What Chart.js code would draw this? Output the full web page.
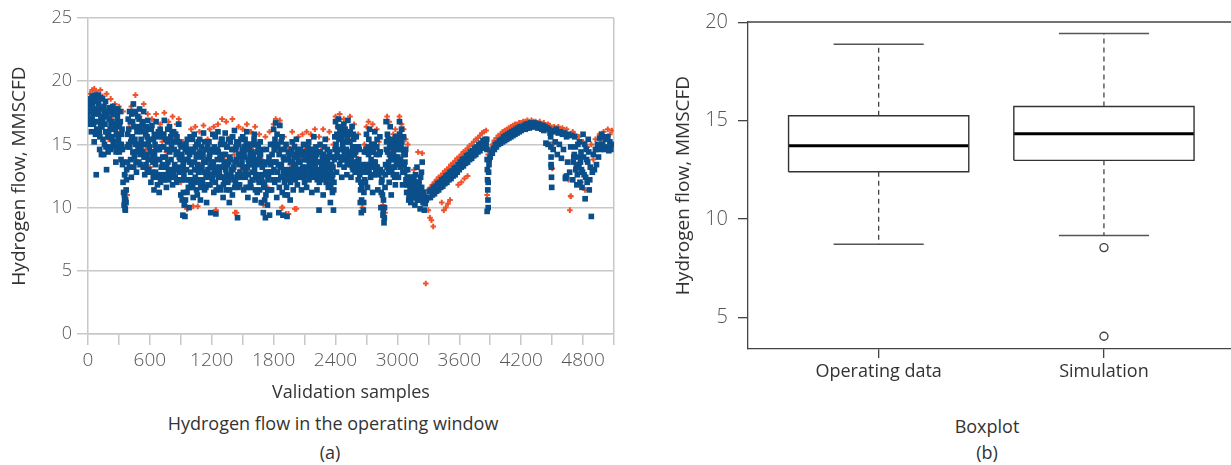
<!DOCTYPE html>
<html>
<head>
<meta charset="utf-8">
<script src="https://cdn.jsdelivr.net/npm/chart.js@4.4.1/dist/chart.umd.min.js"></script>
<style>
  html, body { margin: 0; padding: 0; background: #fff; overflow: hidden; }
  body { width: 1231px; height: 465px; position: relative; font-family: "Open Sans", sans-serif; color: #333; }
  .panel { position: absolute; }
  #scatterWrap { left: 0; top: 0; width: 666px; height: 404px; }
  #boxWrap { left: 640px; top: 0; width: 600px; height: 394px; }
  .cap { position: absolute; width: 600px; text-align: center; font-size: 18px; line-height: 24px; }
</style>
</head>
<body>
<div class="panel" id="scatterWrap"><canvas id="scatterChart"></canvas></div>
<div class="panel" id="boxWrap"><canvas id="boxChart"></canvas></div>
<div class="cap" style="left:33px; top:411px;">Hydrogen flow in the operating window</div>
<div class="cap" style="left:30px; top:440px;">(a)</div>
<div class="cap" style="left:687px; top:414px;">Boxplot</div>
<div class="cap" style="left:687px; top:440px;">(b)</div>
<script>
// (a) hydrogen flow, MMSCFD — operating data read every 10 samples (0, 10, 20 ...)
const OP_STEP = 10;
const opFlow = [
    17.4, 18.2, 16.6, 18.5, 17.0, 18.8, 15.2, 18.9, 12.6, 17.8, 18.9, 16.0, 18.7, 14.2, 18.6, 17.2, 15.0, 18.4, 13.0, 17.6, 15.8, 17.9, 14.6, 16.8, 18.0, 15.2, 17.4, 13.6, 16.4, 17.8,
    15.0, 17.6, 13.8, 16.2, 12.0, 10.2, 9.9, 11.4, 14.8, 17.0, 13.2, 16.8, 12.4, 15.6, 18.2, 14.0, 17.5, 12.8, 16.4, 15.0, 17.8, 13.4, 16.0, 14.4, 17.6, 12.6, 15.8, 14.2, 16.9, 13.0,
    15.4, 12.0, 16.5, 13.6, 11.4, 15.0, 16.8, 12.6, 14.6, 11.2, 16.2, 13.2, 15.6, 12.2, 16.9, 14.0, 11.6, 15.2, 13.0, 16.4, 12.4, 14.8, 11.8, 16.0, 13.4, 15.8, 12.0, 14.4, 16.6, 12.8,
    11.0, 14.2, 9.4, 12.6, 9.3, 15.0, 11.2, 13.8, 10.0, 15.6, 12.0, 14.6, 10.8, 15.8, 12.4, 14.0, 11.0, 15.2, 13.0, 10.6, 14.8, 12.2, 15.9, 11.4, 13.6, 10.4, 15.0, 12.6, 14.2, 9.6,
    13.4, 15.8, 11.2, 14.4, 9.5, 12.8, 16.0, 11.6, 14.0, 12.4, 15.4, 10.8, 13.6, 15.9, 11.4, 14.8, 12.2, 10.4, 15.2, 13.0, 11.0, 14.6, 16.1, 12.0, 13.8, 9.2, 15.0, 11.8, 14.2, 12.6,
    15.6, 11.4, 14.0, 12.8, 16.0, 10.8, 13.4, 15.0, 11.6, 14.4, 12.2, 15.4, 10.6, 13.8, 11.2, 14.8, 12.0, 15.2, 10.4, 13.2, 9.6, 11.8, 9.2, 14.6, 10.2, 12.6, 9.4, 15.0, 11.4, 13.6,
    16.2, 12.0, 16.7, 10.8, 14.8, 9.6, 16.5, 12.4, 15.6, 9.4, 13.8, 11.0, 15.0, 9.3, 12.6, 14.2, 10.6, 13.0, 15.2, 11.4, 14.0, 12.2, 15.4, 11.8, 13.6, 12.8, 14.6, 11.4, 13.2, 15.0,
    12.0, 14.4, 11.6, 13.8, 15.2, 12.4, 14.0, 11.2, 13.4, 15.6, 12.6, 14.8, 11.4, 13.0, 9.8, 15.0, 12.2, 14.2, 11.0, 13.6, 15.4, 12.0, 14.6, 11.6, 13.2, 10.4, 14.0, 11.2, 9.8, 13.8,
    16.8, 12.8, 15.6, 17.0, 13.4, 16.2, 12.4, 15.0, 16.6, 13.8, 15.8, 12.6, 16.9, 14.2, 15.2, 12.4, 16.4, 13.0, 14.8, 12.8, 15.6, 13.6, 12.2, 14.6, 10.4, 9.6, 12.8, 9.8, 14.4, 12.0,
    15.8, 11.6, 14.2, 16.2, 12.4, 15.0, 11.2, 13.6, 16.0, 12.8, 14.8, 11.4, 13.0, 15.6, 10.0, 12.2, 9.4, 8.8, 11.6, 16.8, 13.2, 15.4, 12.0, 16.4, 11.0, 14.0, 12.6, 15.0, 11.8, 13.4,
    15.2, 12.4, 16.8, 13.8, 16.2, 11.8, 15.6, 12.8, 14.6, 11.2, 13.0, 10.6, 12.2, 10.4, 11.6, 10.8, 12.4, 10.2, 11.4, 13.2, 10.6, 12.0, 9.9, 11.0, 13.6, 10.4, 9.8, 10.3, 10.6, 10.8,
    10.8, 11.3, 10.8, 11.4, 11.0, 11.6, 11.1, 11.7, 11.3, 11.9, 11.4, 12.0, 11.6, 12.2, 11.7, 12.3, 11.9, 12.5, 12.0, 12.6, 12.2, 12.8, 12.3, 12.9, 12.5, 13.1, 12.6, 13.2, 12.8, 13.4,
    13.0, 13.6, 13.2, 13.8, 13.3, 13.9, 13.5, 14.1, 13.6, 14.2, 13.8, 14.4, 13.9, 14.5, 14.1, 14.7, 14.2, 14.8, 14.4, 15.0, 14.5, 15.1, 14.7, 15.3, 14.8, 15.4, 15.0, 9.7, 12.0, 13.8,
    14.0, 14.4, 14.3, 14.7, 14.6, 15.0, 14.8, 15.1, 15.0, 15.3, 15.1, 15.4, 15.2, 15.6, 15.3, 15.7, 15.4, 15.8, 15.5, 15.9, 15.6, 16.0, 15.7, 16.1, 15.8, 16.2, 15.9, 16.3, 16.0, 16.4,
    16.1, 16.4, 16.2, 16.5, 16.2, 16.6, 16.3, 16.6, 16.3, 16.7, 16.4, 16.7, 16.4, 16.7, 16.4, 16.6, 16.3, 16.6, 16.3, 16.5, 16.2, 16.5, 16.1, 16.4, 15.1, 16.3, 15.0, 16.2, 15.9, 13.4,
    16.1, 14.6, 16.0, 15.2, 16.2, 14.2, 15.9, 15.0, 16.0, 13.9, 15.8, 14.6, 15.9, 12.4, 15.6, 13.6, 15.8, 12.8, 14.8, 15.7, 12.2, 14.0, 15.6, 13.0, 11.8, 15.0, 13.4, 12.0, 14.4, 11.6,
    15.8, 12.6, 10.7, 14.6, 12.0, 15.4, 11.4, 13.2, 9.3, 12.8, 14.2, 13.0, 14.6, 13.4, 15.0, 14.0, 15.5, 14.6, 15.8, 15.0, 15.6, 14.6, 15.4, 14.8, 15.6, 14.5, 15.2, 14.6, 15.0
];
// operating data in the noisy stretch, read at the in-between samples (5, 15, 25 ... 3255)
const OP_MID_START = 5;
const opFlowMid = [
    18.0, 17.0, 18.6, 17.6, 18.2, 17.4, 16.8, 18.4, 16.2, 18.6, 17.4, 15.6, 17.0, 16.4, 15.4, 18.0, 16.6, 14.8, 16.0, 14.4, 17.0, 16.2, 15.6, 17.4, 15.0, 16.6, 14.8, 15.8, 17.2, 15.4,
    16.4, 14.6, 15.8, 13.4, 11.2, 12.6, 10.6, 13.0, 15.8, 16.2, 14.8, 15.2, 17.4, 14.4, 16.4, 15.4, 13.6, 16.0, 14.6, 17.0, 14.2, 15.4, 16.6, 13.2, 15.0, 14.0, 16.4, 12.8, 15.2, 14.8,
    13.8, 14.4, 12.8, 15.4, 14.2, 12.8, 13.8, 15.6, 12.4, 13.8, 14.8, 12.6, 14.0, 15.8, 13.2, 12.6, 14.6, 13.6, 15.4, 12.8, 13.8, 16.0, 13.0, 14.6, 12.4, 14.2, 15.2, 13.2, 14.0, 15.0,
    13.0, 12.2, 11.2, 13.8, 10.6, 13.0, 14.4, 12.2, 14.2, 12.8, 13.4, 11.6, 14.4, 13.0, 12.0, 15.0, 13.4, 12.2, 14.4, 12.0, 13.2, 14.2, 12.8, 14.6, 12.4, 13.8, 11.8, 14.0, 13.2, 12.4,
    12.2, 13.6, 14.8, 12.0, 13.2, 14.6, 12.4, 13.2, 15.0, 13.8, 12.4, 14.2, 12.2, 13.0, 14.8, 12.0, 13.6, 14.0, 12.6, 14.6, 13.0, 12.2, 13.6, 14.8, 12.4, 11.6, 13.4, 14.0, 12.4, 14.6,
    13.2, 14.8, 12.4, 15.0, 13.2, 12.6, 14.6, 12.0, 13.8, 12.8, 14.2, 13.0, 12.4, 15.0, 13.4, 12.2, 14.0, 12.6, 13.6, 12.0, 11.6, 13.4, 11.0, 12.8, 12.2, 14.0, 11.4, 12.8, 14.2, 12.2,
    14.6, 13.6, 15.0, 12.8, 13.4, 11.6, 14.6, 13.4, 12.4, 14.0, 12.0, 13.0, 11.6, 12.4, 13.8, 12.4, 13.6, 14.4, 12.6, 13.4, 12.6, 14.2, 13.0, 14.0, 12.4, 13.6, 12.4, 14.2, 12.8, 13.8,
    13.2, 12.6, 14.2, 12.6, 13.6, 13.2, 12.6, 14.4, 12.4, 13.8, 14.0, 12.8, 13.6, 12.4, 12.8, 13.6, 13.2, 12.4, 14.2, 12.6, 13.8, 13.2, 12.4, 14.0, 12.6, 12.8, 12.2, 13.2, 12.0, 14.6,
    15.0, 14.2, 16.4, 14.6, 15.4, 14.0, 13.8, 16.0, 14.4, 15.2, 14.0, 15.4, 13.6, 15.8, 13.4, 14.4, 14.8, 15.4, 13.6, 14.4, 13.4, 14.8, 13.8, 12.6, 12.0, 11.6, 13.4, 11.2, 13.2, 14.6,
    13.4, 14.8, 13.0, 14.6, 13.8, 13.2, 14.4, 15.0, 13.6, 14.2, 13.2, 12.6, 14.4, 13.0, 12.0, 11.0, 10.6, 10.0, 13.4, 15.2, 14.4, 13.6, 14.8, 13.8, 12.8, 15.4, 13.8, 13.2, 14.0, 14.8,
    14.0, 15.4, 14.6, 15.0, 13.4, 14.6, 13.4, 14.2, 13.0, 12.4, 11.8, 11.2, 11.0, 12.0, 11.0, 11.6, 11.2, 12.6, 10.8, 11.6, 11.2, 10.6, 12.4, 11.6, 10.8, 11.2
];
// and at samples 3, 13, 23 ... 3253
const OP_OFF3_START = 3;
const opFlowOff3 = [
    16.8, 18.4, 17.8, 16.0, 18.8, 16.6, 17.8, 15.8, 17.6, 16.8, 18.2, 14.6, 16.4, 17.8, 16.8, 14.2, 17.6, 16.0, 17.2, 15.6, 14.8, 17.6, 16.6, 15.4, 16.6, 17.8, 16.2, 14.4, 16.8, 15.6,
    14.4, 16.8, 15.0, 14.6, 13.6, 11.0, 10.4, 12.2, 13.6, 15.0, 17.6, 13.8, 15.4, 16.8, 13.2, 17.6, 15.0, 14.4, 17.2, 13.6, 16.2, 14.6, 15.0, 16.8, 14.0, 16.2, 13.4, 15.6, 13.8, 16.2,
    14.4, 16.2, 14.0, 12.4, 15.8, 13.4, 14.6, 11.8, 16.0, 14.6, 12.0, 15.8, 13.4, 14.8, 12.2, 15.4, 13.2, 16.2, 12.2, 14.4, 15.6, 12.8, 15.2, 12.6, 15.8, 13.0, 15.6, 12.2, 15.2, 13.8,
    14.8, 10.6, 13.4, 10.2, 14.6, 12.2, 15.4, 11.6, 13.6, 14.6, 11.6, 15.4, 12.2, 13.6, 14.8, 11.4, 14.2, 12.8, 15.4, 11.6, 14.0, 11.8, 13.6, 15.2, 11.6, 14.6, 13.0, 15.2, 11.8, 13.6,
    14.6, 12.6, 13.0, 15.6, 11.4, 13.8, 14.4, 12.8, 11.4, 15.4, 13.2, 11.8, 15.0, 14.2, 12.6, 13.4, 15.4, 11.4, 13.8, 12.4, 15.6, 13.2, 11.6, 14.6, 15.2, 12.6, 14.2, 12.8, 15.4, 13.6,
    12.6, 14.4, 15.4, 11.6, 14.6, 13.8, 11.6, 14.2, 15.0, 12.2, 13.4, 15.8, 11.4, 12.6, 14.4, 13.6, 11.4, 14.2, 12.4, 14.6, 12.6, 10.6, 12.8, 13.6, 11.4, 13.6, 12.8, 13.4, 12.8, 15.0,
    13.0, 15.4, 13.6, 15.8, 12.2, 14.2, 13.2, 15.2, 11.2, 12.8, 14.6, 12.2, 13.8, 11.0, 14.4, 13.0, 12.0, 14.6, 13.6, 12.4, 14.8, 13.4, 12.6, 14.6, 13.0, 14.2, 13.0, 12.6, 14.4, 12.4,
    13.8, 13.0, 12.8, 14.8, 12.2, 14.6, 13.2, 12.8, 14.6, 12.8, 13.2, 14.2, 12.2, 14.4, 12.0, 14.4, 12.8, 13.8, 12.6, 14.8, 12.8, 14.0, 13.6, 12.6, 14.4, 11.8, 13.4, 12.6, 11.4, 15.6,
    14.0, 15.8, 14.0, 15.4, 16.0, 13.8, 15.6, 14.6, 13.2, 16.2, 14.6, 13.4, 15.2, 13.6, 16.0, 14.0, 13.2, 15.8, 14.2, 13.2, 14.6, 12.8, 14.8, 13.2, 11.4, 10.6, 12.0, 10.4, 12.2, 13.2,
    14.4, 12.8, 15.4, 13.4, 14.6, 12.6, 14.4, 12.6, 14.8, 13.2, 15.4, 12.8, 14.2, 14.4, 11.2, 12.8, 9.8, 9.2, 12.6, 14.6, 15.8, 12.8, 14.2, 15.0, 13.2, 14.8, 14.4, 12.4, 15.6, 12.6,
    13.6, 14.6, 15.8, 13.2, 15.2, 12.8, 14.2, 13.6, 12.2, 11.8, 12.4, 11.0, 11.6, 11.2, 12.4, 11.2, 10.8, 11.8, 12.0, 10.6, 11.8, 11.4, 11.0, 12.8, 11.2, 10.4
];
// steep drops and the noisy stretch after 4600
const opExtraSample = [355, 362, 368, 3866, 3868, 3870, 3872, 3874, 3876, 3878, 3880, 3884, 3888, 4486, 4488, 4490, 4492, 4494, 4496, 4630, 4640, 4705, 4725, 4745, 4765, 4785, 4805, 4825, 4845, 4865, 4715, 4735, 4755, 4775, 4795, 4815, 4835, 4855];
const opExtraFlow = [10.6, 9.8, 10.4, 15.4, 14.6, 13.8, 13.0, 12.2, 11.4, 10.6, 10.0, 12.8, 13.4, 15.6, 14.8, 14.0, 13.2, 12.4, 11.6, 12.3, 12.5, 13.6, 14.8, 12.6, 15.2, 13.0, 14.0, 12.4, 13.6, 12.2, 14.2, 13.2, 14.0, 13.6, 12.8, 15.0, 13.8, 14.4];

// simulation, read every 20 samples
const SIM_STEP = 20;
const simFlow = [
    18.4, 19.0, 19.3, 19.4, 19.2, 16.2, 19.3, 18.8, 17.5, 19.0, 15.4, 18.6, 17.2, 18.2, 16.0,
    18.0, 15.0, 17.6, 12.6, 11.0, 16.4, 18.0, 14.2, 18.9, 13.4, 17.2, 15.2, 18.2, 14.6, 17.4,
    13.2, 17.0, 14.8, 17.4, 12.4, 16.6, 15.2, 17.5, 14.4, 16.8, 13.0, 17.2, 15.4, 16.6, 17.0,
    12.0, 15.2, 10.2, 9.9, 14.6, 16.2, 10.1, 16.4, 12.8, 16.0, 13.4, 16.5, 11.6, 15.4, 16.2,
    14.6, 16.4, 9.8, 16.6, 12.6, 17.0, 13.8, 16.8, 12.0, 15.6, 17.0, 14.2, 9.6, 16.4, 13.0,
    16.2, 15.0, 16.6, 12.8, 16.0, 14.8, 16.4, 12.4, 15.8, 13.8, 10.2, 15.6, 11.6, 16.0, 14.2,
    16.6, 17.0, 14.4, 16.9, 10.0, 15.6, 9.5, 14.8, 13.4, 16.0, 15.0, 9.9, 15.6, 13.8, 15.8,
    14.8, 16.0, 13.2, 15.8, 14.2, 16.2, 12.4, 15.6, 14.8, 16.2, 13.4, 15.4, 16.0, 12.2, 15.0,
    17.2, 16.4, 17.4, 15.8, 17.0, 16.8, 14.6, 17.2, 15.4, 16.6, 14.0, 15.8, 13.0, 10.0, 15.0,
    16.4, 16.8, 14.6, 16.6, 13.6, 16.2, 15.2, 12.6, 10.2, 9.6, 17.2, 16.8, 14.6, 15.8, 16.2,
    15.8, 17.2, 16.6, 16.2, 15.4, 15.0, 12.4, 11.2, 13.0, 12.0, 14.4, 11.6, 14.3, 10.8, 10.9,
    11.4, 11.6, 11.8, 12.0, 12.2, 12.4, 12.5, 12.7, 12.9, 13.0, 13.2, 13.4, 13.5, 13.7, 13.9,
    14.0, 14.2, 14.4, 14.5, 14.7, 14.9, 15.0, 15.2, 15.4, 15.5, 15.7, 15.9, 16.0, 16.1, 14.2,
    14.6, 15.0, 15.3, 15.5, 15.7, 15.8, 16.0, 16.1, 16.2, 16.3, 16.4, 16.5, 16.6, 16.6, 16.7,
    16.7, 16.8, 16.8, 16.9, 16.8, 16.9, 16.8, 16.8, 16.7, 16.8, 16.6, 16.7, 16.5, 16.6, 16.5,
    15.0, 16.4, 16.3, 16.4, 16.2, 16.3, 16.1, 16.2, 12.2, 10.9, 16.0, 15.8, 13.4, 15.6, 12.0,
    15.2, 11.4, 14.8, 12.2, 15.0, 13.8, 15.4, 14.6, 15.8, 15.2, 16.0, 15.6, 16.2, 15.8, 16.1
];
const simExtraSample = [964, 1064, 1239, 1425, 1885, 1944, 2005, 3275, 3300, 3316, 3330, 3347, 3430, 3450, 3470, 3490, 3510, 3590, 3620, 3650, 3680, 3870, 4497, 4502, 4672, 4680];
const simExtraFlow = [9.9, 10.1, 9.8, 9.6, 10.0, 9.5, 9.9, 4.0, 9.8, 9.2, 9.0, 8.5, 10.4, 9.8, 10.0, 10.3, 10.6, 11.8, 12.0, 12.3, 12.5, 11.0, 15.0, 13.1, 9.8, 10.9];

// (b) boxplot statistics
const boxCats = ['Operating data', 'Simulation'];
const boxLowerWhisker = [8.71, 9.16];
const boxQ1 = [12.40, 12.98];
const boxMedian = [13.72, 14.33];
const boxQ3 = [15.25, 15.72];
const boxUpperWhisker = [18.89, 19.43];
const boxOutliers = [[], [8.54, 4.03]];

const GRID = '#c8c8c8';
const TICK_TEXT = '#555';
const FONT = '"Open Sans", "Noto Sans", sans-serif';

document.addEventListener('DOMContentLoaded', () => {
    initializeScatterChart();
    initializeBoxChart();
});

function toPoints(values, start, step) {
    return values.map((v, i) => ({ x: start + i * step, y: v }));
}

function pairPoints(xs, ys) {
    return xs.map((s, i) => ({ x: s, y: ys[i] }));
}

function initializeScatterChart() {
    const opPoints = toPoints(opFlow, 0, OP_STEP)
        .concat(toPoints(opFlowMid, OP_MID_START, OP_STEP))
        .concat(toPoints(opFlowOff3, OP_OFF3_START, OP_STEP))
        .concat(pairPoints(opExtraSample, opExtraFlow));
    const simPoints = toPoints(simFlow, 0, SIM_STEP)
        .concat(pairPoints(simExtraSample, simExtraFlow));

    const ctx = document.getElementById('scatterChart').getContext('2d');
    new Chart(ctx, {
        type: 'scatter',
        data: {
            datasets: [{
                label: 'Operating data',
                data: opPoints,
                pointStyle: 'rect',
                pointRadius: 4,
                pointBorderWidth: 0,
                backgroundColor: '#0b4f8a',
                borderColor: '#0b4f8a'
            }, {
                label: 'Simulation',
                data: simPoints,
                pointStyle: 'cross',
                pointRadius: 2.8,
                pointBorderWidth: 2,
                backgroundColor: '#f0532b',
                borderColor: '#f0532b'
            }]
        },
        options: {
            responsive: true,
            maintainAspectRatio: false,
            animation: false,
            layout: { padding: { top: 18, right: 52, left: 0, bottom: 0 } },
            plugins: { legend: { display: false }, tooltip: { enabled: false } },
            scales: {
                x: {
                    type: 'linear',
                    min: 0,
                    max: 5100,
                    afterFit: (scale) => { scale.height = 70; },
                    ticks: {
                        stepSize: 300,
                        autoSkip: false,
                        maxRotation: 0,
                        padding: 4,
                        color: TICK_TEXT,
                        font: { family: FONT, size: 19, weight: 300 },
                        callback: (v) => (v % 600 === 0 ? String(v) : '')
                    },
                    grid: {
                        color: (c) => (c.tick && c.tick.value === 5100 ? GRID : 'rgba(0,0,0,0)'),
                        tickColor: GRID,
                        tickLength: 11,
                        lineWidth: 1.5
                    },
                    border: { color: GRID, width: 1.5 },
                    title: {
                        display: true,
                        text: 'Validation samples',
                        color: '#333',
                        font: { family: FONT, size: 18 },
                        padding: { top: 0, bottom: 0 }
                    }
                },
                y: {
                    min: 0,
                    max: 25,
                    afterFit: (scale) => { scale.width = 88; },
                    ticks: {
                        stepSize: 5,
                        padding: 5,
                        color: TICK_TEXT,
                        font: { family: FONT, size: 18, weight: 300 }
                    },
                    grid: { color: GRID, tickLength: 11, lineWidth: 1.5 },
                    border: { color: GRID, width: 1.5 },
                    title: {
                        display: true,
                        text: 'Hydrogen flow, MMSCFD',
                        color: '#333',
                        font: { family: FONT, size: 19 },
                        padding: { top: 8, bottom: 0 }
                    }
                }
            }
        }
    });
}

function lineSet(points, color, width, dash) {
    return {
        type: 'scatter',
        showLine: true,
        data: points.map(([x, y]) => ({ x, y })),
        borderColor: color,
        borderWidth: width,
        borderDash: dash || [],
        pointRadius: 0,
        fill: false
    };
}

function initializeBoxChart() {
    const BOX_HALF = 0.4;
    const CAP_HALF = 0.2;
    const datasets = [];
    boxCats.forEach((cat, i) => {
        const x = i + 1;
        datasets.push(lineSet([[x, boxQ3[i]], [x, boxUpperWhisker[i]]], '#444', 1.3, [5, 4]));
        datasets.push(lineSet([[x, boxQ1[i]], [x, boxLowerWhisker[i]]], '#444', 1.3, [5, 4]));
        datasets.push(lineSet([[x - CAP_HALF, boxUpperWhisker[i]], [x + CAP_HALF, boxUpperWhisker[i]]], '#555', 1.5));
        datasets.push(lineSet([[x - CAP_HALF, boxLowerWhisker[i]], [x + CAP_HALF, boxLowerWhisker[i]]], '#555', 1.5));
        datasets.push(lineSet([
            [x - BOX_HALF, boxQ1[i]], [x + BOX_HALF, boxQ1[i]],
            [x + BOX_HALF, boxQ3[i]], [x - BOX_HALF, boxQ3[i]],
            [x - BOX_HALF, boxQ1[i]]
        ], '#333', 1.4));
        datasets.push(lineSet([[x - BOX_HALF, boxMedian[i]], [x + BOX_HALF, boxMedian[i]]], '#000', 3));
        if (boxOutliers[i].length) {
            datasets.push({
                type: 'scatter',
                data: boxOutliers[i].map((v) => ({ x, y: v })),
                pointStyle: 'circle',
                pointRadius: 4,
                pointBorderWidth: 1.4,
                borderColor: '#444',
                backgroundColor: '#fff'
            });
        }
    });

    const framePlugin = {
        id: 'frame',
        afterDraw(chart) {
            const { ctx, chartArea: a } = chart;
            ctx.save();
            ctx.strokeStyle = '#444';
            ctx.lineWidth = 1.3;
            ctx.beginPath();
            ctx.moveTo(a.left, a.top);
            ctx.lineTo(a.right, a.top);
            ctx.lineTo(a.right, a.bottom);
            ctx.stroke();
            ctx.restore();
        }
    };

    const ctx = document.getElementById('boxChart').getContext('2d');
    new Chart(ctx, {
        type: 'scatter',
        data: { datasets },
        plugins: [framePlugin],
        options: {
            responsive: true,
            maintainAspectRatio: false,
            animation: false,
            layout: { padding: { top: 19, right: 2, left: 0, bottom: 0 } },
            plugins: { legend: { display: false }, tooltip: { enabled: false } },
            scales: {
                x: {
                    type: 'linear',
                    min: 0.42,
                    max: 2.58,
                    afterFit: (scale) => { scale.height = 45; },
                    afterBuildTicks: (scale) => { scale.ticks = boxCats.map((c, i) => ({ value: i + 1 })); },
                    ticks: {
                        autoSkip: false,
                        maxRotation: 0,
                        padding: 3,
                        color: '#333',
                        font: { family: FONT, size: 18 },
                        callback: (v) => boxCats[v - 1]
                    },
                    grid: { drawOnChartArea: false, color: '#444', tickLength: 9, lineWidth: 1.3 },
                    border: { color: '#444', width: 1.3 }
                },
                y: {
                    min: 3.38,
                    max: 20.02,
                    afterFit: (scale) => { scale.width = 108; },
                    afterBuildTicks: (scale) => { scale.ticks = [5, 10, 15, 20].map((v) => ({ value: v })); },
                    ticks: {
                        padding: 10,
                        color: TICK_TEXT,
                        font: { family: FONT, size: 20, weight: 300 }
                    },
                    grid: { drawOnChartArea: false, color: '#444', tickLength: 10, lineWidth: 1.3 },
                    border: { color: '#444', width: 1.3 },
                    title: {
                        display: true,
                        text: 'Hydrogen flow, MMSCFD',
                        color: '#333',
                        font: { family: FONT, size: 19 },
                        padding: { top: 32, bottom: 0 }
                    }
                }
            }
        }
    });
}
</script>
</body>
</html>
